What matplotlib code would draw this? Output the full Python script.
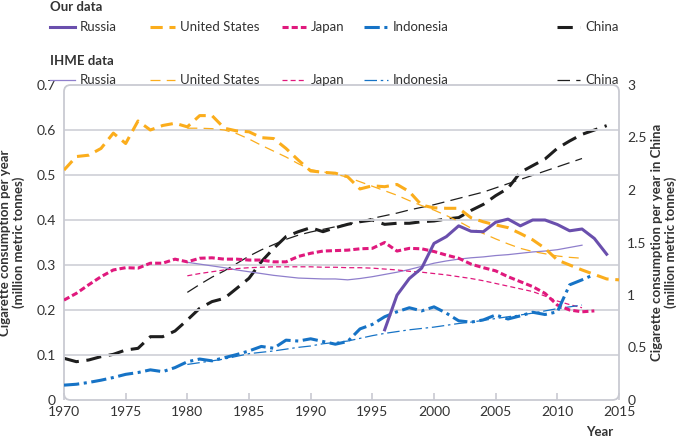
import matplotlib
matplotlib.use('Agg')
import matplotlib.pyplot as plt
from matplotlib.lines import Line2D
from matplotlib.patches import FancyBboxPatch

plt.rcParams['font.family'] = ['Lato', 'DejaVu Sans']

# ---- data ----
years_ihme = list(range(1980, 2013))

us_years = list(range(1970, 2016))
us_ours = [0.511, 0.541, 0.544, 0.559, 0.593, 0.570, 0.620, 0.600, 0.610, 0.615,
           0.607, 0.632, 0.632, 0.604, 0.598, 0.596, 0.583, 0.581, 0.559, 0.533,
           0.509, 0.506, 0.504, 0.496, 0.469, 0.476, 0.474, 0.479, 0.463, 0.433,
           0.427, 0.426, 0.426, 0.405, 0.396, 0.389, 0.383, 0.370, 0.356, 0.337,
           0.311, 0.300, 0.289, 0.279, 0.269, 0.267]
us_ihme = [0.604, 0.604, 0.603, 0.600, 0.592, 0.580, 0.566, 0.553, 0.540, 0.525,
           0.512, 0.507, 0.502, 0.495, 0.485, 0.475, 0.465, 0.455, 0.443, 0.432,
           0.422, 0.410, 0.397, 0.382, 0.370, 0.358, 0.347, 0.337, 0.330, 0.325,
           0.320, 0.317, 0.315]

japan_years = list(range(1970, 2014))
japan_ours = [0.222, 0.237, 0.256, 0.274, 0.289, 0.294, 0.293, 0.304, 0.304, 0.313,
              0.307, 0.315, 0.316, 0.313, 0.313, 0.311, 0.311, 0.307, 0.307, 0.319,
              0.326, 0.331, 0.332, 0.333, 0.336, 0.337, 0.350, 0.331, 0.337, 0.336,
              0.330, 0.322, 0.315, 0.302, 0.294, 0.287, 0.274, 0.263, 0.252, 0.237,
              0.211, 0.200, 0.196, 0.198]
japan_ihme = [0.276, 0.281, 0.285, 0.289, 0.292, 0.294, 0.295, 0.296, 0.296, 0.296,
              0.296, 0.295, 0.295, 0.294, 0.294, 0.293, 0.291, 0.289, 0.286, 0.284,
              0.281, 0.278, 0.274, 0.270, 0.265, 0.259, 0.253, 0.247, 0.241, 0.231,
              0.220, 0.212, 0.205]

indo_years = list(range(1970, 2014))
indo_ours = [0.033, 0.035, 0.039, 0.044, 0.050, 0.057, 0.061, 0.067, 0.063, 0.072,
             0.085, 0.091, 0.087, 0.094, 0.101, 0.109, 0.119, 0.115, 0.133, 0.131,
             0.136, 0.130, 0.124, 0.130, 0.158, 0.168, 0.185, 0.196, 0.205, 0.198,
             0.207, 0.193, 0.176, 0.173, 0.178, 0.189, 0.180, 0.187, 0.195, 0.190,
             0.196, 0.256, 0.267, 0.279]
indo_ihme = [0.079, 0.083, 0.087, 0.091, 0.097, 0.103, 0.106, 0.109, 0.113, 0.117,
             0.120, 0.125, 0.128, 0.131, 0.137, 0.143, 0.148, 0.152, 0.156, 0.159,
             0.162, 0.166, 0.170, 0.173, 0.177, 0.181, 0.185, 0.189, 0.193, 0.198,
             0.203, 0.207, 0.211]

russia_years = list(range(1996, 2015))
russia_ours = [0.156, 0.233, 0.270, 0.293, 0.348, 0.363, 0.387, 0.375, 0.374, 0.395,
               0.402, 0.387, 0.400, 0.400, 0.390, 0.376, 0.380, 0.359, 0.324]
russia_ihme = [0.306, 0.302, 0.298, 0.294, 0.289, 0.285, 0.281, 0.277, 0.274, 0.271,
               0.270, 0.269, 0.269, 0.267, 0.270, 0.274, 0.279, 0.284, 0.290, 0.297,
               0.304, 0.309, 0.313, 0.316, 0.318, 0.321, 0.323, 0.326, 0.329, 0.331,
               0.334, 0.339, 0.344]

china_years = list(range(1970, 2015))
china_ours = [0.397, 0.365, 0.381, 0.413, 0.435, 0.476, 0.492, 0.603, 0.603, 0.657,
              0.762, 0.873, 0.937, 0.968, 1.063, 1.159, 1.317, 1.444, 1.556, 1.603,
              1.641, 1.603, 1.641, 1.673, 1.698, 1.714, 1.673, 1.683, 1.683, 1.698,
              1.705, 1.724, 1.737, 1.805, 1.863, 1.946, 2.016, 2.168, 2.232, 2.295,
              2.397, 2.467, 2.530, 2.571, 2.613]
china_ihme = [1.025, 1.100, 1.170, 1.230, 1.300, 1.370, 1.430, 1.480, 1.530, 1.570,
              1.600, 1.625, 1.650, 1.675, 1.700, 1.730, 1.755, 1.780, 1.810, 1.835,
              1.860, 1.890, 1.920, 1.950, 1.980, 2.020, 2.060, 2.100, 2.140, 2.180,
              2.220, 2.260, 2.300]

countries = ['Russia', 'United States', 'Japan', 'Indonesia', 'China']

# ---- styles ----
c_russia, c_russia_l = '#6a4fad', '#8f7fcc'
c_us = '#fbad1c'
c_japan = '#e0197d'
c_indo = '#1673c6'
c_china = '#1e1e1e'
grid_c = '#d2d3da'
text_c = '#333333'

bold = dict(linewidth=2.2)
thin = dict(linewidth=0.9)
st_us = dict(linestyle=(0, (4, 2.2)))
st_us_t = dict(linestyle=(0, (8, 5)))
st_jp = dict(linestyle=(0, (2, 1)))
st_jp_t = dict(linestyle=(0, (4, 2.5)))
st_id = dict(linestyle=(0, (5, 1.5, 1, 1.5)))
st_id_t = dict(linestyle=(0, (10, 3, 2, 3)))
st_cn = dict(linestyle=(0, (5, 2.5)))
st_cn_t = dict(linestyle=(0, (10, 5)))

fig = plt.figure(figsize=(6.86, 4.41), dpi=100)
ax = fig.add_axes([64 / 686, 41 / 441, 555 / 686, 315 / 441])
ax2 = ax.twinx()

for s in list(ax.spines.values()) + list(ax2.spines.values()):
    s.set_visible(False)

frame = FancyBboxPatch((0, 0), 1, 1, transform=ax.transAxes,
                       boxstyle='round,pad=0,rounding_size=0.012',
                       mutation_aspect=555 / 315, fill=False,
                       edgecolor='#c9cad2', linewidth=1.3, zorder=0.5, clip_on=False)
ax.add_patch(frame)

for v in [0.1, 0.2, 0.3, 0.4, 0.5, 0.6]:
    ax.axhline(v, color=grid_c, linewidth=1.3, zorder=0.4)

# IHME (thin) lines
ax.plot(years_ihme, russia_ihme, color=c_russia_l, **thin)
ax.plot(years_ihme, us_ihme, color=c_us, **thin, **st_us_t)
ax.plot(years_ihme, japan_ihme, color=c_japan, **thin, **st_jp_t)
ax.plot(years_ihme, indo_ihme, color=c_indo, **thin, **st_id_t)
ax2.plot(years_ihme, china_ihme, color=c_china, **thin, **st_cn_t)

# our data (bold)
ax.plot(us_years, us_ours, color=c_us, **bold, **st_us)
ax.plot(japan_years, japan_ours, color=c_japan, **bold, **st_jp)
ax.plot(indo_years, indo_ours, color=c_indo, **bold, **st_id)
ax.plot(russia_years, russia_ours, color=c_russia, **bold)
ax2.plot(china_years, china_ours, color=c_china, **bold, **st_cn)

ax.set_xlim(1970, 2015)
ax.set_ylim(0, 0.7)
ax2.set_ylim(0, 3)
ax.set_xticks(range(1970, 2016, 5))
ax.set_yticks([0, 0.1, 0.2, 0.3, 0.4, 0.5, 0.6, 0.7])
ax.set_yticklabels(['0', '0.1', '0.2', '0.3', '0.4', '0.5', '0.6', '0.7'])
ax2.set_yticks([0, 0.5, 1, 1.5, 2, 2.5, 3])
ax2.set_yticklabels(['0', '0.5', '1', '1.5', '2', '2.5', '3'])

ax.tick_params(axis='x', direction='in', length=5, width=1.2, color='#c9cad2',
               labelsize=10, labelcolor=text_c, pad=4)
ax.tick_params(axis='y', length=0, labelsize=10, labelcolor=text_c, pad=6)
ax2.tick_params(axis='y', length=0, labelsize=10, labelcolor=text_c, pad=6)
ax.set_zorder(ax2.get_zorder() + 1)
ax.patch.set_visible(False)

ax.set_ylabel('Cigarette consumption per year\n(million metric tonnes)',
              fontsize=9.5, fontweight='bold', color=text_c, labelpad=8, linespacing=1.1)
ax2.set_ylabel('Cigarette consumption per year in China\n(million metric tonnes)',
               fontsize=9.5, fontweight='bold', color=text_c, labelpad=3,
               linespacing=1.1, rotation=90)
fig.text(600 / 686, 1 - 432 / 441, 'Year', fontsize=9.5, fontweight='bold',
         color=text_c, ha='center', va='center')

# ---- legend ----
def px(x, y):
    return x / 686, 1 - y / 441

fig.text(*px(50, 7), 'Our data', fontsize=9.5, fontweight='bold', color=text_c,
         ha='left', va='center')
fig.text(*px(50, 61), 'IHME data', fontsize=9.5, fontweight='bold', color=text_c,
         ha='left', va='center')

legend_x = [(50, 80), (150, 180), (282, 311), (364, 393), (557, 585)]
our_styles = [(c_russia, {}), (c_us, st_us), (c_japan, st_jp), (c_indo, st_id), (c_china, st_cn)]
ihme_styles = [(c_russia_l, {}), (c_us, st_us_t), (c_japan, st_jp_t), (c_indo, st_id_t), (c_china, st_cn_t)]
for row_y, styles, lw in [(27, our_styles, bold), (80, ihme_styles, thin)]:
    for (lx, tx), name, (col, st) in zip(legend_x, countries, styles):
        x0, y0 = px(lx, row_y)
        x1, _ = px(tx - 5, row_y)
        fig.add_artist(Line2D([x0, x1], [y0, y0], color=col, **lw, **st))
        fig.text(*px(tx, row_y), name, fontsize=9.5, color=text_c, ha='left', va='center')

plt.savefig('out.png', dpi=100)
